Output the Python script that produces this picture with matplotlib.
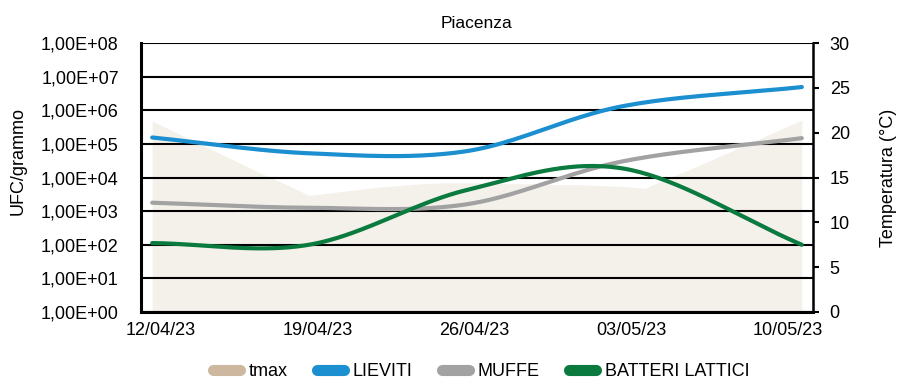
import numpy as np
import matplotlib
matplotlib.use('Agg')
import matplotlib.pyplot as plt
from matplotlib.lines import Line2D
from matplotlib.transforms import ScaledTranslation

plt.rcParams['font.family'] = ['Liberation Sans Narrow', 'Liberation Sans', 'DejaVu Sans']

# giorni dal 12/04/23 (centro della categoria)
tmax_days = np.arange(30) + 0.5
tmax = [21.3, 20.1, 18.9, 17.7, 16.5, 15.3, 14.2, 13.0, 13.3, 13.6,
        13.9, 14.1, 14.3, 14.4, 14.4, 14.4, 14.3, 14.3, 14.2, 14.2,
        14.1, 14.0, 13.8, 14.9, 15.9, 17.0, 18.1, 19.2, 20.3, 21.4]

# campionamenti (log10 UFC/grammo)
sample_days = [0.5, 7.5, 14.5, 21.5, 29.5]
lieviti = [5.19, 4.72, 4.78, 6.12, 6.69]
muffe = [3.25, 3.10, 3.20, 4.48, 5.17]
batteri = [2.05, 2.00, 3.62, 4.27, 2.00]

date_ticks = [0, 7, 14, 21, 28]
date_labels = ['12/04/23', '19/04/23', '26/04/23', '03/05/23', '10/05/23']
ufc_labels = ['1,00E+00', '1,00E+01', '1,00E+02', '1,00E+03', '1,00E+04',
              '1,00E+05', '1,00E+06', '1,00E+07', '1,00E+08']
temp_ticks = [0, 5, 10, 15, 20, 25, 30]

c_fill = '#F4F1EB'
c_tmax = '#CDB89F'
c_liev = '#1B8FCF'
c_muffe = '#A2A2A2'
c_batt = '#0B7A3F'


# linea smussata tipo Excel (Catmull-Rom)
def smooth(x, y, n=40):
    x = np.asarray(x, float)
    y = np.asarray(y, float)
    px = np.concatenate([[2*x[0]-x[1]], x, [2*x[-1]-x[-2]]])
    py = np.concatenate([[2*y[0]-y[1]], y, [2*y[-1]-y[-2]]])
    xs, ys = [], []
    for i in range(1, len(px)-2):
        t = np.linspace(0, 1, n)
        mx1 = (px[i+1]-px[i-1])/2
        mx2 = (px[i+2]-px[i])/2
        my1 = (py[i+1]-py[i-1])/2
        my2 = (py[i+2]-py[i])/2
        h00 = 2*t**3-3*t**2+1
        h10 = t**3-2*t**2+t
        h01 = -2*t**3+3*t**2
        h11 = t**3-t**2
        xs.append(h00*px[i]+h10*mx1+h01*px[i+1]+h11*mx2)
        ys.append(h00*py[i]+h10*my1+h01*py[i+1]+h11*my2)
    return np.concatenate(xs), np.concatenate(ys)


fig = plt.figure(figsize=(9.03, 3.92), dpi=100)
ax_t = fig.add_axes([141/903, 1-312/392, 672/903, 269/392])
ax = ax_t.twinx()

# temperatura (sfondo)
ax_t.fill_between(tmax_days, 0, tmax, color=c_fill, lw=0, zorder=0)
ax_t.set_ylim(0, 30)
ax_t.set_xlim(0, 30)
ax_t.set_yticks(temp_ticks)
ax_t.yaxis.tick_right()
ax_t.yaxis.set_label_position('right')
ax_t.tick_params(axis='y', length=4, width=1.5, pad=8, labelsize=13)
ax_t.set_ylabel('Temperatura (°C)', fontsize=13)
ax_t.yaxis.set_label_coords(1.1, 0.5)
ax_t.set_xticks(date_ticks)
ax_t.set_xticklabels(date_labels)
ax_t.tick_params(axis='x', length=0, pad=7, labelsize=13)
for lab in ax_t.get_xticklabels():
    lab.set_transform(lab.get_transform() + ScaledTranslation(0.2, 0, fig.dpi_scale_trans))
ax_t.spines['top'].set_visible(False)
ax_t.spines['right'].set_linewidth(1.8)
ax_t.spines['left'].set_linewidth(2.2)
ax_t.spines['bottom'].set_linewidth(2.2)

# UFC (scala log)
ax.patch.set_visible(False)
ax.set_xlim(0, 30)
ax.set_ylim(0, 8)
ax.set_yticks(range(9))
ax.set_yticklabels(ufc_labels)
ax.yaxis.tick_left()
ax.yaxis.set_label_position('left')
ax.tick_params(axis='y', length=0, pad=16, labelsize=13)
ax.set_ylabel('UFC/grammo', fontsize=13)
ax.yaxis.set_label_coords(-0.17, 0.56)
ax.set_xticks(date_ticks)
ax.tick_params(axis='x', length=0, labelbottom=False)
ax.grid(True, color='black', lw=1.5)
ax.set_axisbelow(True)
for s in ax.spines.values():
    s.set_visible(False)

for yy, col in [(lieviti, c_liev), (muffe, c_muffe), (batteri, c_batt)]:
    sx, sy = smooth(sample_days, yy)
    ax.plot(sx, sy, color=col, lw=3, solid_capstyle='round', zorder=3)

ax.set_title('Piacenza', fontsize=12.5, pad=11)

handles = [Line2D([], [], color=c, lw=8, solid_capstyle='round')
           for c in [c_tmax, c_liev, c_muffe, c_batt]]
fig.legend(handles, ['tmax', 'LIEVITI', 'MUFFE', 'BATTERI LATTICI'], ncol=4,
           loc='center', bbox_to_anchor=(481/903, 1-372/392), frameon=False,
           fontsize=13, handlelength=1.5, handletextpad=0.5, columnspacing=1.6)

fig.savefig('out.png', dpi=100)
